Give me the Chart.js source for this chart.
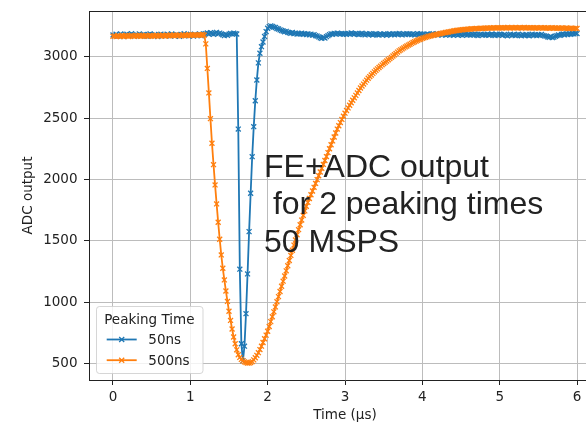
<!DOCTYPE html>
<html>
<head>
<meta charset="utf-8">
<title>FE+ADC output</title>
<script src="https://cdn.jsdelivr.net/npm/chart.js"></script>
<style>
  html, body { margin: 0; padding: 0; overflow: hidden; background: #fff; }
  canvas { display: block; }
</style>
</head>
<body>
<canvas id="chart" width="606" height="422"></canvas>
<script>
// 50 MSPS -> one sample every 0.02 us
const samplePeriodUs = 0.02;

const xTicks = [0, 1, 2, 3, 4, 5, 6];
const yTicks = [500, 1000, 1500, 2000, 2500, 3000];
const seriesLabels = ['50ns', '500ns'];
const seriesColors = ['#1f77b4', '#ff7f0e'];
const legendTitle = 'Peaking Time';
const annotationLines = ['FE+ADC output', ' for 2 peaking times', '50 MSPS'];

// ADC codes, 50ns peaking time
const adc50ns = [
  3178,3171,3183,3169,3176,3186,3172,3165,3179,3184,
  3170,3177,3188,3174,3166,3180,3175,3185,3169,3178,
  3182,3173,3167,3179,3187,3176,3170,3181,3174,3165,
  3177,3184,3172,3179,3168,3183,3176,3171,3186,3174,
  3169,3180,3177,3166,3182,3175,3188,3172,3178,3170,
  3184,3176,3168,3181,3174,3179,3185,3171,3177,3183,
  3188,3194,3185,3197,3190,3183,3192,3199,3187,3193,
  3186,3179,3172,3181,3175,3184,3190,3186,3193,3188,
  3185,2410,1268,660,520,640,905,1229,1574,1887,
  2185,2430,2641,2810,2950,3028,3082,3120,3165,3205,
  3232,3246,3252,3247,3241,3238,3230,3226,3219,3214,
  3210,3204,3207,3199,3195,3192,3198,3188,3193,3185,
  3190,3186,3192,3183,3188,3181,3187,3179,3184,3176,
  3180,3172,3168,3162,3155,3150,3158,3153,3164,3172,
  3180,3187,3183,3191,3186,3193,3188,3184,3190,3185,
  3189,
  3182,3190,3186,3194,3188,3183,3191,3185,3180,3187,
  3192,3184,3178,3186,3181,3189,3183,3176,3184,3188,
  3181,3177,3185,3179,3186,3182,3175,3183,3188,3180,
  3185,3179,3187,3183,3190,3184,3178,3186,3181,3189,
  3183,3187,3180,3185,3178,3184,3189,3182,3186,3180,
  3184,3178,3186,3181,3176,3183,3188,3180,3185,3177,
  3182,3187,3179,3184,3176,3181,3186,3178,3183,3175,
  3180,3185,3177,3183,3179,3174,3182,3186,3178,3181,
  3176,3183,3179,3185,3177,3172,3180,3184,3176,3181,
  3177,3183,3175,3180,3186,3178,3173,3181,3177,3184,
  3179,3174,3182,3176,3170,3178,3183,3175,3180,3172,
  3177,3183,3176,3171,3179,3174,3181,3176,3170,3178,
  3183,3175,3179,3172,3180,3176,3182,3174,3170,3168,
  3162,3158,3165,3156,3160,3167,3172,3178,3174,3181,
  3185,3179,3186,3181,3188,3183,3190,3186,3192,3189
];

// ADC codes, 500ns peaking time
const adc500ns = [
  3166,3170,3164,3172,3168,3165,3171,3167,3173,3169,
  3165,3170,3174,3168,3166,3172,3169,3175,3167,3171,
  3168,3173,3170,3166,3174,3169,3172,3167,3175,3170,
  3173,3168,3176,3171,3169,3174,3170,3177,3172,3175,
  3171,3176,3173,3178,3170,3175,3172,3177,3174,3179,
  3173,3178,3175,3180,3176,3174,3179,3177,3181,3176,
  3105,2905,2705,2495,2295,2120,1955,1800,1650,1512,
  1384,1275,1180,1090,1005,925,850,780,715,660,
  610,570,548,532,520,512,506,503,503,507,
  514,528,545,565,587,612,640,670,700,730,
  762,800,840,880,920,960,1002,1044,1086,1128,
  1170,1212,1254,1296,1338,1380,1422,1464,1506,1548,
  1590,1630,1668,1706,1743,1780,1812,1844,1875,1905,
  1935,1967,1998,2030,2060,2090,2122,2154,2186,2218,
  2250,2282,2314,2346,2378,2410,2437,2463,2489,2515,
  2540,2562,2583,2604,2625,2645,2665,2685,2705,2725,
  2745,2761,2777,2793,2809,2825,2838,2851,2864,2877,
  2890,2901,2912,2923,2934,2945,2955,2965,2975,2985,
  2995,3006,3016,3027,3038,3048,3056,3064,3072,3080,
  3088,3095,3102,3109,3116,3122,3128,3134,3140,3145,
  3150,3154,3158,3162,3166,3169,3172,3175,3178,3181,
  3184,3187,3190,3193,3195,3198,3200,3202,3205,3207,
  3210,3212,3214,3216,3217,3219,3220,3222,3223,3224,
  3225,
  3226,3228,3227,3229,3230,3229,3231,3232,3230,3233,
  3232,3234,3233,3235,3233,3236,3234,3235,3237,3235,
  3236,3234,3237,3235,3238,3236,3234,3237,3235,3238,
  3236,3235,3237,3234,3236,3238,3235,3237,3234,3236,
  3235,3237,3234,3236,3233,3235,3237,3234,3236,3233,
  3235,3232,3234,3236,3233,3235,3231,3234,3232,3235,
  3233,3231,3234,3232,3230,3233,3231,3229,3232,3230
];

const textColor = '#222';
const fontFamily = '"DejaVu Sans", sans-serif';
const annotationFont = '32px "Liberation Sans", Arial, sans-serif';
Chart.defaults.font.family = fontFamily;
Chart.defaults.color = textColor;

function toPoints(values){
  return values.map((v, i) => ({x: i * samplePeriodUs, y: v}));
}

function lineDataset(label, color, values, order){
  return {
    label, order,
    data: toPoints(values),
    borderColor: color,
    backgroundColor: color,
    borderWidth: 1.8,
    tension: 0,
    pointStyle: 'crossRot',
    pointRadius: 3.5,
    pointBorderWidth: 1.3,
    pointBorderColor: color,
    pointHoverRadius: 3.5,
  };
}

// top/right spines, the text block and the legend box
const decorPlugin = {
  id: 'decor',
  afterDraw(chart){
    const {ctx, chartArea: a} = chart;
    ctx.save();
    ctx.strokeStyle = textColor;
    ctx.lineWidth = 1;
    ctx.beginPath();
    ctx.moveTo(a.left, a.top + 0.5);
    ctx.lineTo(a.right - 0.5, a.top + 0.5);
    ctx.lineTo(a.right - 0.5, a.bottom);
    ctx.stroke();

    ctx.fillStyle = textColor;
    ctx.textAlign = 'left';
    ctx.textBaseline = 'alphabetic';
    ctx.font = annotationFont;
    annotationLines.forEach((line, i) => ctx.fillText(line, 264, 176.5 + i * 37.7));

    // legend
    const bx = 96.5, by = 306.5, bw = 106.5, bh = 67;
    ctx.beginPath();
    ctx.roundRect(bx, by, bw, bh, 3);
    ctx.fillStyle = 'rgba(255,255,255,0.8)';
    ctx.fill();
    ctx.strokeStyle = 'rgba(204,204,204,0.8)';
    ctx.stroke();

    ctx.font = '13.5px ' + fontFamily;
    ctx.fillStyle = textColor;
    ctx.textAlign = 'center';
    ctx.fillText(legendTitle, 149.3, 324);
    ctx.textAlign = 'left';
    seriesLabels.forEach((label, i) => {
      const y = 339.5 + i * 20.7;
      const c = seriesColors[i];
      ctx.strokeStyle = c;
      ctx.lineWidth = 1.8;
      ctx.beginPath();
      ctx.moveTo(106.7, y);
      ctx.lineTo(136.7, y);
      ctx.stroke();
      ctx.lineWidth = 1.3;
      ctx.beginPath();
      ctx.moveTo(121.7 - 2.5, y - 2.5); ctx.lineTo(121.7 + 2.5, y + 2.5);
      ctx.moveTo(121.7 - 2.5, y + 2.5); ctx.lineTo(121.7 + 2.5, y - 2.5);
      ctx.stroke();
      ctx.fillStyle = textColor;
      ctx.fillText(label, 148.3, y + 4.8);
    });
    ctx.restore();
  }
};

const gridStyle = {color: '#bcbcbc', lineWidth: 1, tickColor: textColor, tickLength: 5, tickWidth: 1};
const borderStyle = {color: textColor, width: 1};

new Chart(document.getElementById('chart'), {
  type: 'line',
  data: {
    datasets: [
      lineDataset(seriesLabels[0], seriesColors[0], adc50ns, 1),
      lineDataset(seriesLabels[1], seriesColors[1], adc500ns, 0),
    ]
  },
  options: {
    responsive: false,
    animation: false,
    events: [],
    layout: {padding: {left: 0, top: 11, right: 5, bottom: 0}},
    plugins: {legend: {display: false}, tooltip: {enabled: false}},
    scales: {
      x: {
        type: 'linear',
        min: -0.31,
        max: 6.31,
        afterBuildTicks: s => { s.ticks = xTicks.map(v => ({value: v})); },
        afterFit: s => { s.height = 42; s.paddingLeft = 0; s.paddingRight = 0; },
        ticks: {color: textColor, font: {size: 13.5}, padding: 4, maxRotation: 0, autoSkip: false, callback: v => String(v)},
        grid: gridStyle,
        border: borderStyle,
        title: {display: true, text: 'Time (µs)', color: textColor, font: {size: 13.5, lineHeight: 1}, padding: {top: 0, bottom: 0}}
      },
      y: {
        type: 'linear',
        min: 364,
        max: 3373,
        afterBuildTicks: s => { s.ticks = yTicks.map(v => ({value: v})); },
        afterFit: s => { s.width = 89; s.paddingTop = 0; s.paddingBottom = 0; },
        ticks: {color: textColor, font: {size: 13.5}, padding: 6.5, autoSkip: false, callback: v => String(v)},
        grid: gridStyle,
        border: borderStyle,
        title: {display: true, text: 'ADC output', color: textColor, font: {size: 13.5, lineHeight: 1}, padding: {top: 22, bottom: 0}}
      }
    }
  },
  plugins: [decorPlugin]
});
</script>
</body>
</html>
